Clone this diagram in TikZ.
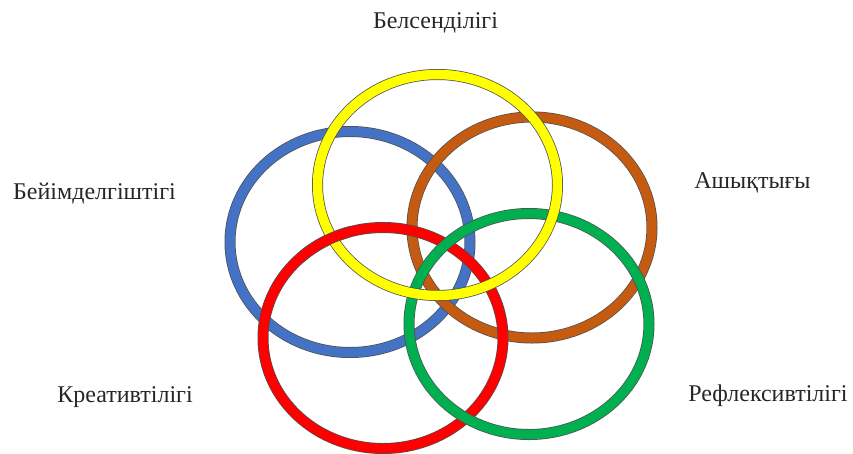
\documentclass[tikz,border=0pt]{standalone}
\usepackage{fontspec}
\setmainfont{Liberation Serif}
\definecolor{ringedge}{HTML}{505050}
\definecolor{rblue}{HTML}{4472C4}
\definecolor{ryellow}{HTML}{FFFF00}
\definecolor{rbrown}{HTML}{C55A11}
\definecolor{rred}{HTML}{FF0000}
\definecolor{rgreen}{HTML}{00B050}
\newcommand\myring[2]{%
  \draw[line width=11pt, draw=ringedge] (#1) ellipse [x radius=120, y radius=110.5];
  \draw[line width=9.5pt, draw=#2] (#1) ellipse [x radius=120, y radius=110.5];}
\begin{document}
\begin{tikzpicture}[x=1pt,y=-1pt,
  lbl/.style={font=\fontsize{24}{28}\selectfont, text=black!85, anchor=base, inner sep=0pt}]
\useasboundingbox (0,0) rectangle (853,453);
\fill[white] (0,0) rectangle (853,453);
\coordinate (cblue) at (350,242);
\coordinate (cbrown) at (532,227.5);
\coordinate (cred) at (383,338);
\coordinate (cgreen) at (529,324);
\coordinate (cyellow) at (437.5,185);
\myring{cblue}{rblue}
\myring{cbrown}{rbrown}
\myring{cred}{rred}
\myring{cgreen}{rgreen}
\myring{cyellow}{ryellow}
\begin{scope}
  \clip (300,210) rectangle (350,262);
  \myring{cred}{rred}
\end{scope}
\node[lbl] (l1) at (435.5,28) {Белсенділігі};
\node[lbl] (l2) at (94.5,199) {Бейімделгіштігі};
\node[lbl] (l3) at (752.5,188) {Ашықтығы};
\node[lbl] (l4) at (125,402) {Креативтілігі};
\node[lbl] (l5) at (768,401) {Рефлексивтілігі};
\end{tikzpicture}
\end{document}
